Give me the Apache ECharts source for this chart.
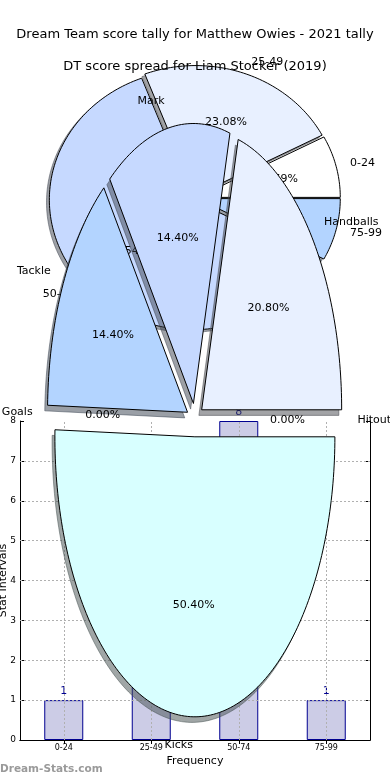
<!DOCTYPE html>
<html><head><meta charset="utf-8">
<script src="https://cdn.jsdelivr.net/npm/echarts@6/dist/echarts.min.js"></script>
<style>html,body{margin:0;padding:0;background:#fff}#c{width:390px;height:780px}</style>
</head><body><div id="c"></div>
<script>
// ---- data ----
const titleTally = 'Dream Team score tally for Matthew Owies - 2021 tally';
const titleSpread = 'DT score spread for Liam Stocker (2019)';
const spreadCategories = ['0-24', '25-49', '50-74', '75-99'];
const spreadCounts = [1, 3, 8, 1];
const tallyCategories = ['Hitout', 'Handballs', 'Mark', 'Tackle', 'Goals', 'Kicks'];
const tallyCounts = [0, 26, 18, 18, 0, 63];
const yTickValues = [0, 1, 2, 3, 4, 5, 6, 7, 8];
const xAxisTitle = 'Frequency';
const yAxisTitle = 'Stat Intervals';
const watermark = 'Dream-Stats.com';

// ---- styles ----
const FONT = 'DejaVu Sans';
const spreadColors = ['#ffffff', '#e8f0ff', '#c6d9ff', '#b3d4ff'];
const tallyColors = ['#ffffff', '#e8f0ff', '#c6d9ff', '#b3d4ff', '#a6c8f5', '#d8ffff'];

function buildSlices(counts) {
  const total = counts.reduce((a, b) => a + b, 0);
  let cum = 0;
  return counts.map((c, i) => { const s = cum / total; cum += c; return [s, cum / total, c, i]; });
}
function shadowColor(hex) {
  const n = parseInt(hex.slice(1), 16);
  const r = (n >> 16) & 255, g = (n >> 8) & 255, b = n & 255;
  return 'rgba(' + Math.round(r * 0.3) + ',' + Math.round(g * 0.3) + ',' + Math.round(b * 0.3) + ',0.5)';
}
function wedgePoints(api, s, t, cx, cy) {
  const pts = [api.coord([cx, cy])];
  const n = Math.max(2, Math.ceil((t - s) / (Math.PI / 150)));
  for (let k = 0; k <= n; k++) {
    const a = s + (t - s) * k / n;
    pts.push(api.coord([cx + Math.cos(a), cy + Math.sin(a)]));
  }
  return pts;
}
function makePie(o) {
  const angles = (api) => {
    const s = api.value(0) * 2 * Math.PI, t = api.value(1) * 2 * Math.PI, m = (s + t) / 2;
    return { s, t, m, ox: o.explode * Math.cos(m), oy: o.explode * Math.sin(m) };
  };
  const base = { type: 'custom', coordinateSystem: 'cartesian2d', xAxisIndex: o.xi, yAxisIndex: o.yi,
    data: o.data, clip: false, silent: true, animation: false };
  return [
    Object.assign({}, base, { z: o.z, renderItem: (p, api) => {
      if (api.value(2) === 0) return;
      const a = angles(api); const col = shadowColor(o.colors[api.value(3)]);
      return { type: 'polygon', shape: { points: wedgePoints(api, a.s, a.t, a.ox - 0.02, a.oy - 0.02) },
        style: { fill: col, stroke: col, lineWidth: 1 } };
    }}),
    Object.assign({}, base, { z: o.z + 1, renderItem: (p, api) => {
      if (api.value(2) === 0) return;
      const a = angles(api);
      return { type: 'polygon', shape: { points: wedgePoints(api, a.s, a.t, a.ox, a.oy) },
        style: { fill: o.colors[api.value(3)], stroke: '#000', lineWidth: 1 } };
    }}),
    Object.assign({}, base, { z: o.z + 2, renderItem: (p, api) => {
      const a = angles(api); const idx = api.value(3);
      const pct = ((api.value(1) - api.value(0)) * 100).toFixed(2) + '%';
      const lp = api.coord([a.ox + 1.1 * Math.cos(a.m), a.oy + 1.1 * Math.sin(a.m)]);
      const pp = api.coord([a.ox + 0.6 * Math.cos(a.m), a.oy + 0.6 * Math.sin(a.m)]);
      const font = '11px "' + FONT + '"';
      return { type: 'group', children: [
        { type: 'text', x: lp[0], y: lp[1], style: { text: o.names[idx], fill: '#000', font: font,
          align: Math.cos(a.m) > 0 ? 'left' : 'right', verticalAlign: 'middle' } },
        { type: 'text', x: pp[0], y: pp[1], style: { text: pct, fill: '#000', font: font,
          align: 'center', verticalAlign: 'middle' } }
      ]};
    }})
  ];
}

const hiddenVal = (g) => ({ gridIndex: g, type: 'value', min: -1, max: 1, show: false });
const blackLine = { show: true, lineStyle: { color: '#000', width: 1 } };
const inTick = { show: true, inside: true, length: 4, lineStyle: { color: '#000', width: 1 } };

const chart = echarts.init(document.getElementById('c'), null, { renderer: 'canvas' });
chart.setOption({
  animation: false,
  backgroundColor: '#fff',
  textStyle: { fontFamily: FONT },
  title: [
    { text: titleTally, left: 'center', top: 23, textStyle: { fontSize: 13, fontWeight: 'normal', color: '#000', fontFamily: FONT } },
    { text: titleSpread, left: 'center', top: 55, textStyle: { fontSize: 13, fontWeight: 'normal', color: '#000', fontFamily: FONT } }
  ],
  graphic: [
    { type: 'text', left: 0, top: 764, style: { text: watermark, fill: '#9a9a9a', font: 'bold 10.5px "' + FONT + '"' } }
  ],
  grid: [
    { left: 51.5, top: 68, width: 286, height: 260, outerBoundsMode: 'none' },
    { left: 20, top: 421, width: 350, height: 319, outerBoundsMode: 'none' },
    { left: 55, top: 140, width: 280, height: 560, outerBoundsMode: 'none' }
  ],
  xAxis: [
    hiddenVal(0),
    { gridIndex: 1, type: 'category', data: spreadCategories, position: 'bottom',
      axisLine: blackLine, axisTick: Object.assign({ alignWithLabel: true }, inTick),
      axisLabel: { fontSize: 8, color: '#000', margin: 4, fontFamily: FONT },
      splitLine: { show: false },
      name: xAxisTitle, nameLocation: 'middle', nameGap: 16, nameMoveOverlap: false,
      nameTextStyle: { fontSize: 11, color: '#000', fontFamily: FONT } },
    hiddenVal(2),
    { gridIndex: 1, type: 'category', data: spreadCategories, position: 'top',
      axisLine: blackLine, axisTick: Object.assign({ alignWithLabel: true }, inTick),
      axisLabel: { show: false }, splitLine: { show: false } }
  ],
  yAxis: [
    hiddenVal(0),
    { gridIndex: 1, type: 'value', min: 0, max: 8, interval: 1, position: 'left',
      axisLine: blackLine, axisTick: inTick,
      axisLabel: { fontSize: 9, color: '#000', margin: 4, fontFamily: FONT },
      splitLine: { show: false },
      name: yAxisTitle, nameLocation: 'middle', nameGap: 11, nameMoveOverlap: false,
      nameTextStyle: { fontSize: 11, color: '#000', fontFamily: FONT } },
    hiddenVal(2),
    { gridIndex: 1, type: 'value', min: 0, max: 8, interval: 1, position: 'right',
      axisLine: blackLine, axisTick: inTick, axisLabel: { show: false }, splitLine: { show: false } }
  ],
  series: [].concat(
    makePie({ data: buildSlices(spreadCounts), colors: spreadColors, names: spreadCategories,
      explode: 0.02, xi: 0, yi: 0, z: 1 }),
    [{
      type: 'bar', xAxisIndex: 1, yAxisIndex: 1, data: spreadCounts, barWidth: 39, z: 2, silent: true,
      itemStyle: { color: '#ccccE6', borderColor: '#000090', borderWidth: 1 },
      label: { show: true, position: 'top', distance: 3, color: '#000090', fontSize: 11, fontFamily: FONT },
      markLine: {
        z: 3, silent: true, symbol: 'none', animation: false, label: { show: false },
        lineStyle: { color: '#b0b0b0', type: [2, 2], width: 1 },
        data: spreadCategories.map(c => ({ xAxis: c }))
          .concat(yTickValues.slice(1, -1).map(v => ({ yAxis: v })))
      }
    }],
    makePie({ data: buildSlices(tallyCounts), colors: tallyColors, names: tallyCategories,
      explode: 0.06, xi: 2, yi: 2, z: 5 })
  )
});
</script></body></html>
